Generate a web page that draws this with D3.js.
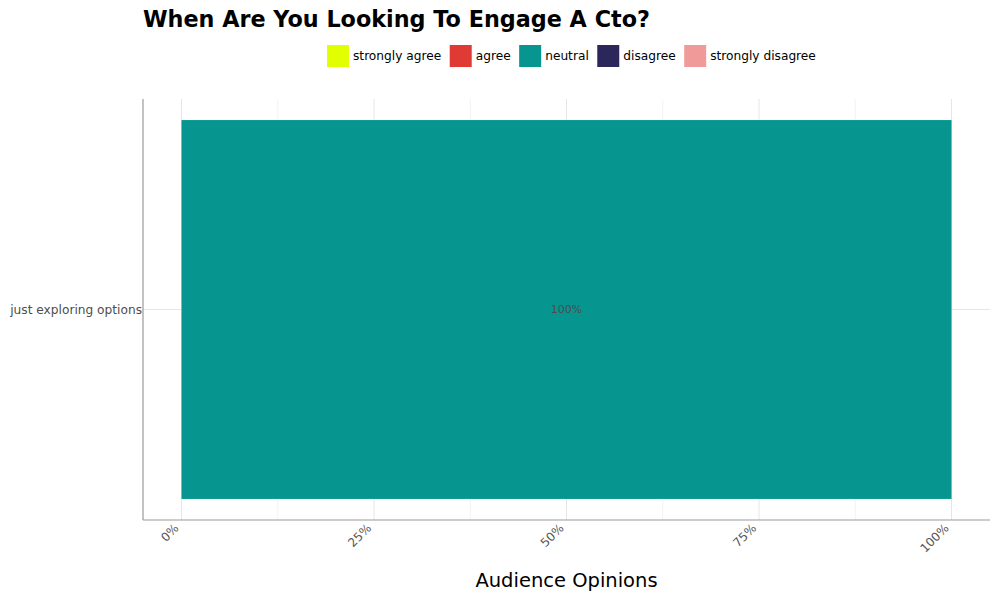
<!DOCTYPE html>
<html>
<head>
    <meta charset="utf-8">
    <title>When Are You Looking To Engage A Cto?</title>
    <script src="https://d3js.org/d3.v7.min.js"></script>
    <style>
        body { margin: 0; background: #fff; }
        text { font-family: "DejaVu Sans", sans-serif; }
    </style>
</head>
<body>
    <div id="chart"></div>
    <script>
        // data
        const categories = ["just exploring options"];
        const responses = ["strongly agree", "agree", "neutral", "disagree", "strongly disagree"];
        const colours = ["#e1ff00", "#df3b34", "#079590", "#2b275b", "#f09b9a"];
        const shares = {
            "strongly agree": [0],
            "agree": [0],
            "neutral": [1],
            "disagree": [0],
            "strongly disagree": [0]
        };
        const xTicks = [0, 0.25, 0.5, 0.75, 1];
        const xMinor = [0.125, 0.375, 0.625, 0.875];

        const width = 1000, height = 600;
        const svg = d3.select("#chart").append("svg")
            .attr("width", width)
            .attr("height", height);

        const plotLeft = 143, plotRight = 990, plotTop = 99, plotBottom = 520;

        const x = d3.scaleLinear().domain([-0.05, 1.05]).range([plotLeft, plotRight]);
        const y = d3.scaleBand().domain(categories).range([plotTop, plotBottom]).paddingInner(0.1).paddingOuter(0.05);

        // grid
        svg.append("g").selectAll("line").data(xMinor).join("line")
            .attr("x1", d => x(d)).attr("x2", d => x(d))
            .attr("y1", plotTop).attr("y2", plotBottom)
            .attr("stroke", "#f0f0f0").attr("stroke-width", 0.8);
        svg.append("g").selectAll("line").data(xTicks).join("line")
            .attr("x1", d => x(d)).attr("x2", d => x(d))
            .attr("y1", plotTop).attr("y2", plotBottom)
            .attr("stroke", "#e6e6e6").attr("stroke-width", 1);
        svg.append("g").selectAll("line").data(categories).join("line")
            .attr("x1", plotLeft).attr("x2", plotRight)
            .attr("y1", d => y(d) + y.bandwidth() / 2).attr("y2", d => y(d) + y.bandwidth() / 2)
            .attr("stroke", "#e6e6e6").attr("stroke-width", 1);

        // stacked bars
        const rows = categories.map((c, i) => {
            const r = { category: c };
            responses.forEach(k => r[k] = shares[k][i]);
            return r;
        });
        const stacked = d3.stack().keys(responses)(rows);
        const colour = d3.scaleOrdinal().domain(responses).range(colours);

        svg.append("g").selectAll("g").data(stacked).join("g")
            .attr("fill", d => colour(d.key))
            .selectAll("rect").data(d => d).join("rect")
            .attr("x", d => x(d[0]))
            .attr("width", d => x(d[1]) - x(d[0]))
            .attr("y", d => y(d.data.category))
            .attr("height", y.bandwidth());

        // value labels
        stacked.forEach(s => {
            s.forEach(d => {
                const v = d[1] - d[0];
                if (v > 0) {
                    svg.append("text")
                        .attr("x", x((d[0] + d[1]) / 2))
                        .attr("y", y(d.data.category) + y.bandwidth() / 2)
                        .attr("dy", "0.35em")
                        .attr("text-anchor", "middle")
                        .attr("font-size", 11)
                        .attr("fill", "#4d4d4d")
                        .text(d3.format(".0%")(v));
                }
            });
        });

        // axis lines
        svg.append("line").attr("x1", plotLeft).attr("x2", plotLeft).attr("y1", plotTop).attr("y2", plotBottom)
            .attr("stroke", "#999").attr("stroke-width", 1.2);
        svg.append("line").attr("x1", plotLeft).attr("x2", plotRight).attr("y1", plotBottom).attr("y2", plotBottom)
            .attr("stroke", "#999").attr("stroke-width", 1.2);

        // x tick labels
        svg.append("g").selectAll("text").data(xTicks).join("text")
            .attr("transform", d => `translate(${x(d) - 8},${plotBottom + 3}) rotate(-45)`)
            .attr("text-anchor", "end")
            .attr("dy", "0.7em")
            .attr("font-size", 12)
            .attr("fill", "#555")
            .text(d => d3.format(".0%")(d));

        // y tick labels
        svg.append("g").selectAll("text").data(categories).join("text")
            .attr("x", plotLeft - 1)
            .attr("y", d => y(d) + y.bandwidth() / 2)
            .attr("dy", "0.35em")
            .attr("text-anchor", "end")
            .attr("font-size", 12.2)
            .attr("fill", "#4d4d4d")
            .text(d => d);

        // titles
        svg.append("text").attr("x", plotLeft).attr("y", 27)
            .attr("font-size", 22.3).attr("font-weight", "bold").attr("fill", "#000")
            .text("When Are You Looking To Engage A Cto?");
        svg.append("text").attr("x", (plotLeft + plotRight) / 2).attr("y", 587)
            .attr("text-anchor", "middle").attr("font-size", 19.5).attr("fill", "#000")
            .text("Audience Opinions");

        // legend
        const legend = svg.append("g");
        let lx = 327;
        responses.forEach(k => {
            legend.append("rect").attr("x", lx).attr("y", 45).attr("width", 22).attr("height", 22)
                .attr("fill", colour(k));
            const t = legend.append("text").attr("x", lx + 26).attr("y", 56).attr("dy", "0.35em")
                .attr("font-size", 12.2).attr("fill", "#000").text(k);
            lx += 26 + t.node().getComputedTextLength() + 8.5;
        });
    </script>
</body>
</html>
